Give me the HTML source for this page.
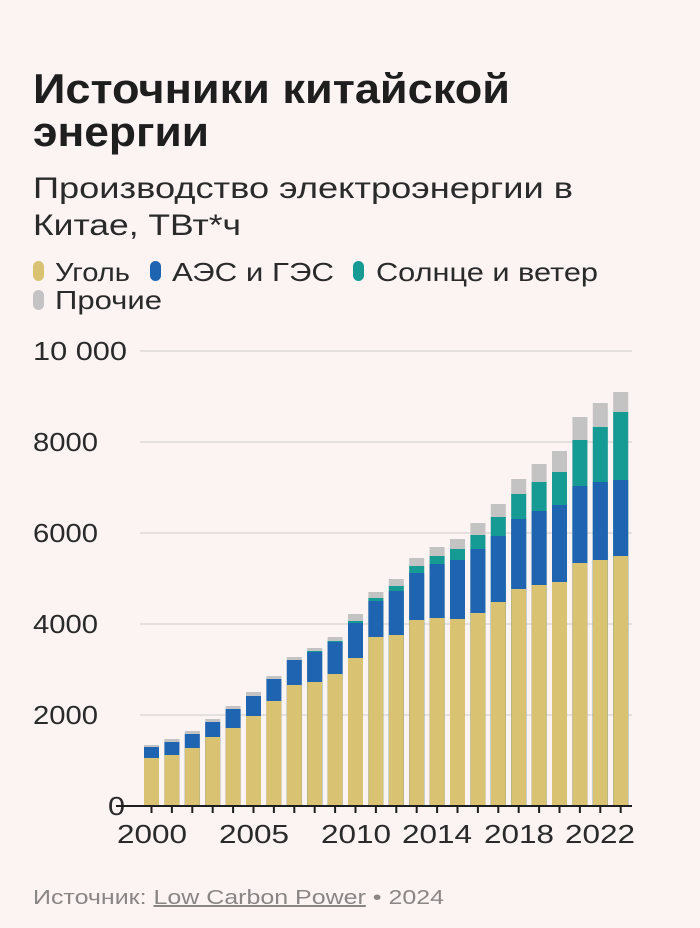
<!DOCTYPE html>
<html><head><meta charset="utf-8"><style>
html,body{margin:0;padding:0;background:#fcf3f3;}
svg{display:block;font-family:"Liberation Sans",sans-serif;}
</style></head><body>
<svg width="700" height="928" viewBox="0 0 700 928">
<rect width="700" height="928" fill="#fcf3f3"/>
<text x="33" y="103" font-size="42" font-weight="bold" fill="#1e1e1e" textLength="477" lengthAdjust="spacingAndGlyphs">Источники китайской</text>
<text x="33" y="146" font-size="42" font-weight="bold" fill="#1e1e1e" textLength="176" lengthAdjust="spacingAndGlyphs">энергии</text>
<text x="33" y="198" font-size="30" fill="#2a2a2a" textLength="540" lengthAdjust="spacingAndGlyphs">Производство электроэнергии в</text>
<text x="33" y="235" font-size="30" fill="#2a2a2a" textLength="208" lengthAdjust="spacingAndGlyphs">Китае, ТВт*ч</text>
<g font-size="26" fill="#2a2a2a">
<rect x="33" y="261" width="11" height="20" rx="5.5" fill="#d9c373"/>
<text x="55" y="281" textLength="75" lengthAdjust="spacingAndGlyphs">Уголь</text>
<rect x="150" y="261" width="11" height="20" rx="5.5" fill="#1f64b1"/>
<text x="172" y="281" textLength="162" lengthAdjust="spacingAndGlyphs">АЭС и ГЭС</text>
<rect x="353" y="261" width="11" height="20" rx="5.5" fill="#169a94"/>
<text x="376" y="281" textLength="222" lengthAdjust="spacingAndGlyphs">Солнце и ветер</text>
<rect x="33" y="290" width="11" height="20" rx="5.5" fill="#c3c3c3"/>
<text x="55" y="309" textLength="107" lengthAdjust="spacingAndGlyphs">Прочие</text>
</g>
<g stroke="#e4e0e0" stroke-width="2">
<line x1="140" y1="351" x2="632" y2="351"/>
<line x1="140" y1="442" x2="632" y2="442"/>
<line x1="140" y1="533" x2="632" y2="533"/>
<line x1="140" y1="624" x2="632" y2="624"/>
<line x1="140" y1="715" x2="632" y2="715"/>
</g>
<g font-size="26" fill="#2a2a2a" lengthAdjust="spacingAndGlyphs">
<text x="33" y="360" textLength="94" lengthAdjust="spacingAndGlyphs">10 000</text>
<text x="33" y="451" textLength="65" lengthAdjust="spacingAndGlyphs">8000</text>
<text x="33" y="542" textLength="65" lengthAdjust="spacingAndGlyphs">6000</text>
<text x="33" y="633" textLength="65" lengthAdjust="spacingAndGlyphs">4000</text>
<text x="33" y="724" textLength="65" lengthAdjust="spacingAndGlyphs">2000</text>
<text x="108" y="815" textLength="17" lengthAdjust="spacingAndGlyphs">0</text>
</g>
<g fill="#c3c3c3">
<rect x="144" y="745" width="15" height="61"/><rect x="164.4" y="739" width="15" height="67"/><rect x="184.8" y="731" width="15" height="75"/><rect x="205.2" y="719" width="15" height="87"/><rect x="225.6" y="706" width="15" height="100"/><rect x="246" y="692" width="15" height="114"/><rect x="266.4" y="676" width="15" height="130"/><rect x="286.8" y="657" width="15" height="149"/><rect x="307.2" y="648" width="15" height="158"/><rect x="327.6" y="637" width="15" height="169"/><rect x="348" y="614" width="15" height="192"/><rect x="368.4" y="592" width="15" height="214"/><rect x="388.8" y="579" width="15" height="227"/><rect x="409.2" y="558" width="15" height="248"/><rect x="429.6" y="547" width="15" height="259"/><rect x="450" y="539" width="15" height="267"/><rect x="470.4" y="523" width="15" height="283"/><rect x="490.8" y="504" width="15" height="302"/><rect x="511.2" y="479" width="15" height="327"/><rect x="531.6" y="464" width="15" height="342"/><rect x="552" y="451" width="15" height="355"/><rect x="572.4" y="417" width="15" height="389"/><rect x="592.8" y="403" width="15" height="403"/><rect x="613.2" y="392" width="15" height="414"/>
</g>
<g fill="#169a94">
<rect x="307.2" y="651" width="15" height="155"/><rect x="327.6" y="641" width="15" height="165"/><rect x="348" y="621" width="15" height="185"/><rect x="368.4" y="598" width="15" height="208"/><rect x="388.8" y="586" width="15" height="220"/><rect x="409.2" y="566" width="15" height="240"/><rect x="429.6" y="556" width="15" height="250"/><rect x="450" y="549" width="15" height="257"/><rect x="470.4" y="535" width="15" height="271"/><rect x="490.8" y="517" width="15" height="289"/><rect x="511.2" y="494" width="15" height="312"/><rect x="531.6" y="482" width="15" height="324"/><rect x="552" y="472" width="15" height="334"/><rect x="572.4" y="440" width="15" height="366"/><rect x="592.8" y="427" width="15" height="379"/><rect x="613.2" y="412" width="15" height="394"/>
</g>
<g fill="#1f64b1">
<rect x="144" y="747" width="15" height="59"/><rect x="164.4" y="742" width="15" height="64"/><rect x="184.8" y="734" width="15" height="72"/><rect x="205.2" y="722" width="15" height="84"/><rect x="225.6" y="709" width="15" height="97"/><rect x="246" y="696" width="15" height="110"/><rect x="266.4" y="679" width="15" height="127"/><rect x="286.8" y="660" width="15" height="146"/><rect x="307.2" y="652" width="15" height="154"/><rect x="327.6" y="642" width="15" height="164"/><rect x="348" y="623" width="15" height="183"/><rect x="368.4" y="601" width="15" height="205"/><rect x="388.8" y="591" width="15" height="215"/><rect x="409.2" y="573" width="15" height="233"/><rect x="429.6" y="564" width="15" height="242"/><rect x="450" y="560" width="15" height="246"/><rect x="470.4" y="549" width="15" height="257"/><rect x="490.8" y="536" width="15" height="270"/><rect x="511.2" y="519" width="15" height="287"/><rect x="531.6" y="511" width="15" height="295"/><rect x="552" y="505" width="15" height="301"/><rect x="572.4" y="486" width="15" height="320"/><rect x="592.8" y="482" width="15" height="324"/><rect x="613.2" y="480" width="15" height="326"/>
</g>
<g fill="#d9c373">
<rect x="144" y="758" width="15" height="48"/><rect x="164.4" y="755" width="15" height="51"/><rect x="184.8" y="748" width="15" height="58"/><rect x="205.2" y="737" width="15" height="69"/><rect x="225.6" y="728" width="15" height="78"/><rect x="246" y="716" width="15" height="90"/><rect x="266.4" y="701" width="15" height="105"/><rect x="286.8" y="685" width="15" height="121"/><rect x="307.2" y="682" width="15" height="124"/><rect x="327.6" y="674" width="15" height="132"/><rect x="348" y="658" width="15" height="148"/><rect x="368.4" y="637" width="15" height="169"/><rect x="388.8" y="635" width="15" height="171"/><rect x="409.2" y="620" width="15" height="186"/><rect x="429.6" y="618" width="15" height="188"/><rect x="450" y="619" width="15" height="187"/><rect x="470.4" y="613" width="15" height="193"/><rect x="490.8" y="602" width="15" height="204"/><rect x="511.2" y="589" width="15" height="217"/><rect x="531.6" y="585" width="15" height="221"/><rect x="552" y="582" width="15" height="224"/><rect x="572.4" y="563" width="15" height="243"/><rect x="592.8" y="560" width="15" height="246"/><rect x="613.2" y="556" width="15" height="250"/>
</g>
<line x1="116" y1="806" x2="632" y2="806" stroke="#1e1e1e" stroke-width="2"/>
<path stroke="#1e1e1e" stroke-width="2" d="M151.5 806v7M171.9 806v7M192.3 806v7M212.7 806v7M233.1 806v7M253.5 806v7M273.9 806v7M294.3 806v7M314.7 806v7M335.1 806v7M355.5 806v7M375.9 806v7M396.3 806v7M416.7 806v7M437.1 806v7M457.5 806v7M477.9 806v7M498.3 806v7M518.7 806v7M539.1 806v7M559.5 806v7M579.9 806v7M600.3 806v7M620.7 806v7"/>
<g font-size="26" fill="#2a2a2a" text-anchor="middle">
<text x="152" y="843" textLength="70" lengthAdjust="spacingAndGlyphs">2000</text>
<text x="254" y="843" textLength="70" lengthAdjust="spacingAndGlyphs">2005</text>
<text x="356" y="843" textLength="70" lengthAdjust="spacingAndGlyphs">2010</text>
<text x="437" y="843" textLength="70" lengthAdjust="spacingAndGlyphs">2014</text>
<text x="519" y="843" textLength="70" lengthAdjust="spacingAndGlyphs">2018</text>
<text x="600" y="843" textLength="70" lengthAdjust="spacingAndGlyphs">2022</text>
</g>
<text x="33" y="904" font-size="20" fill="#8a8686" textLength="411" lengthAdjust="spacingAndGlyphs">Источник: <tspan text-decoration="underline">Low Carbon Power</tspan> • 2024</text>
</svg>
</body></html>
